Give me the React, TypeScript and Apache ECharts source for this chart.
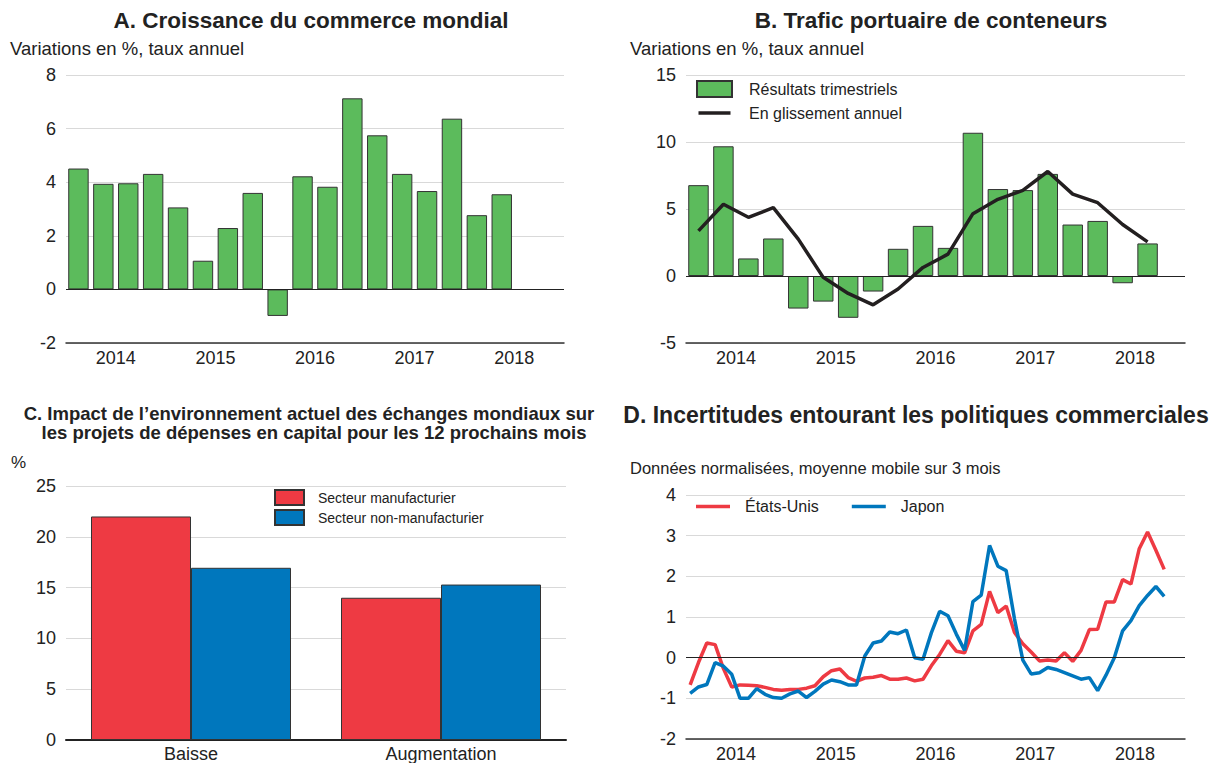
import React, { useEffect, useRef } from "react";
import * as echarts from "echarts";

const FONT = "'Liberation Sans', Arial, Helvetica, sans-serif";
const TXT = "#222";

const years = ["2014", "2015", "2016", "2017", "2018"];
const quarters = [
  "T1 2014", "T2 2014", "T3 2014", "T4 2014",
  "T1 2015", "T2 2015", "T3 2015", "T4 2015",
  "T1 2016", "T2 2016", "T3 2016", "T4 2016",
  "T1 2017", "T2 2017", "T3 2017", "T4 2017",
  "T1 2018", "T2 2018", "T3 2018", "T4 2018",
];
const monthNames = ["janv", "févr", "mars", "avr", "mai", "juin", "juil", "août", "sept", "oct", "nov", "déc"];
const months: string[] = [];
years.forEach((y) => monthNames.forEach((m) => months.push(m + " " + y)));

// A. Croissance du commerce mondial (quarterly, annualised %)
const tradeGrowth = [4.51, 3.94, 3.96, 4.31, 3.06, 1.07, 2.29, 3.6, -0.99, 4.22, 3.83, 7.13, 5.75, 4.31, 3.67, 6.37, 2.77, 3.55];

// B. Trafic portuaire de conteneurs
const portQuarterly = [6.78, 9.68, 1.31, 2.8, -2.43, -1.91, -3.12, -1.16, 2.03, 3.74, 2.1, 10.69, 6.49, 6.41, 7.62, 3.84, 4.11, -0.54, 2.43];
const portYoY = [3.37, 5.35, 4.38, 5.1, 2.75, -0.1, -1.3, -2.15, -0.97, 0.64, 1.63, 4.65, 5.72, 6.39, 7.8, 6.11, 5.47, 3.84, 2.55];

// C. Impact on capital spending plans
const impactCats = ["Baisse", "Augmentation"];
const manufacturing = [22.0, 14.0];
const nonManufacturing = [16.95, 15.3];

// D. Trade policy uncertainty (monthly, 3-month moving average)
const usUncertainty = [
  -0.67, -0.12, 0.36, 0.32, -0.27, -0.72, -0.67, -0.68, -0.69, -0.73, -0.78, -0.8,
  -0.78, -0.78, -0.75, -0.69, -0.47, -0.32, -0.28, -0.49, -0.58, -0.5, -0.48, -0.44,
  -0.53, -0.53, -0.5, -0.57, -0.53, -0.2, 0.08, 0.42, 0.16, 0.12, 0.66, 0.82,
  1.63, 1.11, 1.27, 0.62, 0.34, 0.14, -0.08, -0.06, -0.08, 0.12, -0.09, 0.18,
  0.69, 0.7, 1.37, 1.37, 1.92, 1.81, 2.68, 3.09, 2.64, 2.17,
];
const japanUncertainty = [
  -0.88, -0.72, -0.66, -0.12, -0.21, -0.41, -1.0, -1.0, -0.76, -0.9, -0.98, -1.0,
  -0.89, -0.82, -0.98, -0.83, -0.65, -0.55, -0.59, -0.67, -0.67, 0.04, 0.36, 0.41,
  0.63, 0.59, 0.68, 0.0, -0.04, 0.61, 1.14, 1.03, 0.58, 0.18, 1.38, 1.54,
  2.76, 2.25, 2.14, 0.95, -0.06, -0.4, -0.37, -0.24, -0.29, -0.37, -0.45, -0.53,
  -0.49, -0.81, -0.43, 0.0, 0.66, 0.91, 1.28, 1.53, 1.75, 1.51,
];

const GREEN = "#5cbb5c";
const RED = "#ee3a43";
const BLUE = "#0077bd";
const BORDER = "#333";
const LINE_ICON = "path://M0,0M34,17M0,6.75h34v3.5h-34z";

const zeroLine = {
  silent: true,
  symbol: "none",
  label: { show: false },
  lineStyle: { color: "#222", width: 1.2, type: "solid" },
  data: [{ yAxis: 0 }],
};

function quarterAxis(gridIndex: number, data: string[]) {
  return {
    type: "category",
    gridIndex,
    position: "bottom",
    data,
    boundaryGap: true,
    axisLine: { onZero: false, lineStyle: { color: "#333", width: 1.5 } },
    axisTick: { inside: true, length: 3.5, interval: 0, lineStyle: { color: "#333", width: 1.2 } },
    axisLabel: { show: false },
    splitLine: { show: false },
  };
}
function yearAxis(gridIndex: number) {
  return {
    type: "category",
    gridIndex,
    position: "bottom",
    data: years,
    boundaryGap: true,
    axisLine: { show: false, onZero: false },
    axisTick: { inside: true, length: 7.5, interval: 0, lineStyle: { color: "#333", width: 1.2 } },
    axisLabel: { interval: 0, fontSize: 18, color: TXT, fontFamily: FONT, margin: 6 },
    splitLine: { show: false },
  };
}
function valueAxis(gridIndex: number, min: number, max: number, interval: number) {
  return {
    type: "value",
    gridIndex,
    min,
    max,
    interval,
    axisLine: { show: false },
    axisTick: { show: false },
    axisLabel: { fontSize: 18, color: TXT, fontFamily: FONT, margin: 10 },
    splitLine: { lineStyle: { color: "#d9d9d9", width: 1 } },
  };
}

function txt(x: number, y: number, text: string, size: number, bold: boolean, align: string) {
  return {
    type: "text",
    x,
    y,
    style: {
      text,
      fill: TXT,
      font: `${bold ? "bold " : ""}${size}px ${FONT}`,
      textAlign: align,
      textVerticalAlign: "middle",
    },
  };
}

export default function App() {
  const ref = useRef<HTMLDivElement>(null);
  useEffect(() => {
    document.body.style.margin = "0";
    const chart = echarts.init(ref.current!, undefined, { renderer: "svg" });
    chart.setOption({
      animation: false,
      backgroundColor: "#fff",
      textStyle: { fontFamily: FONT },
      graphic: [
        txt(311, 20, "A. Croissance du commerce mondial", 22.5, true, "center"),
        txt(10, 48, "Variations en %, taux annuel", 18.5, false, "left"),
        txt(931, 20, "B. Trafic portuaire de conteneurs", 22.5, true, "center"),
        txt(630, 48, "Variations en %, taux annuel", 18.5, false, "left"),
        txt(309, 413, "C. Impact de l\u2019environnement actuel des échanges mondiaux sur", 18.5, true, "center"),
        txt(314, 432, "les projets de dépenses en capital pour les 12 prochains mois", 18.5, true, "center"),
        txt(11, 462, "%", 17, false, "left"),
        txt(916, 415, "D. Incertitudes entourant les politiques commerciales", 23, true, "center"),
        txt(630, 468, "Données normalisées, moyenne mobile sur 3 mois", 16.5, false, "left"),
      ],
      legend: [
        {
          data: [
            { name: "Résultats trimestriels", icon: "rect" },
            { name: "En glissement annuel", icon: LINE_ICON },
          ],
          orient: "vertical",
          left: 696,
          top: 80,
          padding: 0,
          itemWidth: 35,
          itemHeight: 16,
          itemGap: 7,
          selectedMode: false,
          textStyle: { fontSize: 16, color: TXT, fontFamily: FONT, padding: [0, 0, 0, 12] },
        },
        {
          data: [
            { name: "Secteur manufacturier", icon: "rect" },
            { name: "Secteur non-manufacturier", icon: "rect" },
          ],
          orient: "vertical",
          left: 274,
          top: 489,
          padding: 0,
          itemWidth: 29,
          itemHeight: 15,
          itemGap: 3,
          selectedMode: false,
          textStyle: { fontSize: 14, color: TXT, fontFamily: FONT, padding: [0, 0, 0, 9] },
        },
        {
          data: [
            { name: "États-Unis", icon: LINE_ICON },
            { name: "Japon", icon: LINE_ICON },
          ],
          orient: "horizontal",
          left: 696,
          top: 498,
          padding: 0,
          itemWidth: 34,
          itemHeight: 17,
          itemGap: 33,
          selectedMode: false,
          textStyle: { fontSize: 16, color: TXT, fontFamily: FONT, padding: [0, 0, 0, 10] },
        },
      ],
      grid: [
        { left: 66, top: 75, width: 498, height: 268 },
        { left: 686, top: 75, width: 499, height: 268 },
        { left: 66, top: 486, width: 500, height: 256 },
        { left: 686, top: 495, width: 499, height: 246 },
      ],
      xAxis: [
        quarterAxis(0, quarters),
        yearAxis(0),
        quarterAxis(1, quarters),
        yearAxis(1),
        {
          type: "category",
          gridIndex: 2,
          position: "bottom",
          data: impactCats,
          axisLine: { lineStyle: { color: "#222", width: 2 } },
          axisTick: { show: false },
          axisLabel: { fontSize: 18, color: TXT, fontFamily: FONT, margin: 5 },
        },
        { type: "category", gridIndex: 3, position: "bottom", data: months, boundaryGap: true, show: false },
        quarterAxis(3, quarters),
        yearAxis(3),
      ],
      yAxis: [
        valueAxis(0, -2, 8, 2),
        valueAxis(1, -5, 15, 5),
        valueAxis(2, 0, 25, 5),
        valueAxis(3, -2, 4, 1),
      ],
      series: [
        {
          name: "Croissance du commerce mondial",
          type: "bar",
          xAxisIndex: 0,
          yAxisIndex: 0,
          data: tradeGrowth,
          barCategoryGap: "18%",
          itemStyle: { color: GREEN, borderColor: BORDER, borderWidth: 1 },
          markLine: zeroLine,
        },
        {
          name: "Résultats trimestriels",
          type: "bar",
          xAxisIndex: 2,
          yAxisIndex: 1,
          data: portQuarterly,
          barCategoryGap: "18%",
          itemStyle: { color: GREEN, borderColor: BORDER, borderWidth: 1 },
          markLine: zeroLine,
        },
        {
          name: "En glissement annuel",
          type: "line",
          xAxisIndex: 2,
          yAxisIndex: 1,
          data: portYoY,
          symbol: "none",
          color: "#231f20",
          lineStyle: { color: "#231f20", width: 3.5 },
        },
        {
          name: "Secteur manufacturier",
          type: "bar",
          xAxisIndex: 4,
          yAxisIndex: 2,
          data: manufacturing,
          barGap: "0%",
          barCategoryGap: "20%",
          itemStyle: { color: RED, borderColor: BORDER, borderWidth: 1 },
        },
        {
          name: "Secteur non-manufacturier",
          type: "bar",
          xAxisIndex: 4,
          yAxisIndex: 2,
          data: nonManufacturing,
          barGap: "0%",
          barCategoryGap: "20%",
          itemStyle: { color: BLUE, borderColor: BORDER, borderWidth: 1 },
        },
        {
          name: "États-Unis",
          type: "line",
          xAxisIndex: 5,
          yAxisIndex: 3,
          data: usUncertainty,
          symbol: "none",
          color: RED,
          lineStyle: { color: RED, width: 3.5 },
          markLine: zeroLine,
        },
        {
          name: "Japon",
          type: "line",
          xAxisIndex: 5,
          yAxisIndex: 3,
          data: japanUncertainty,
          symbol: "none",
          color: BLUE,
          lineStyle: { color: BLUE, width: 3.5 },
        },
      ],
    });
    return () => chart.dispose();
  }, []);
  return <div ref={ref} style={{ width: 1218, height: 763 }} />;
}
